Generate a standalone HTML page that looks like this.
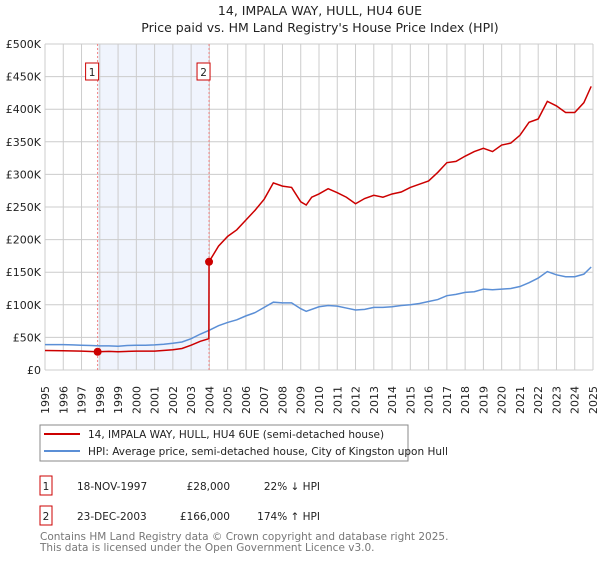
<!DOCTYPE html>
<html><head><meta charset="utf-8"><style>
body{margin:0;background:#fff;font-family:"DejaVu Sans","Liberation Sans",sans-serif;}
svg text{font-family:"DejaVu Sans","Liberation Sans",sans-serif;}
</style></head><body>
<svg id="c" width="600" height="560" xmlns="http://www.w3.org/2000/svg">
<text x="320" y="15" text-anchor="middle" font-size="12.5" fill="#222">14, IMPALA WAY, HULL, HU4 6UE</text>
<text x="320" y="32" text-anchor="middle" font-size="12.5" fill="#222">Price paid vs. HM Land Registry's House Price Index (HPI)</text>
<g id="plot"></g>
<g>
<rect x="40" y="425" width="368" height="36" fill="#fff" stroke="#888"/>
<line x1="44" y1="434" x2="80" y2="434" stroke="#cc0000" stroke-width="2"/>
<text x="88" y="438" font-size="10.5" fill="#222">14, IMPALA WAY, HULL, HU4 6UE (semi-detached house)</text>
<line x1="44" y1="451" x2="80" y2="451" stroke="#5b8fd6" stroke-width="2"/>
<text x="88" y="455" font-size="10.5" fill="#222">HPI: Average price, semi-detached house, City of Kingston upon Hull</text>
</g>
<g font-size="10.5" fill="#222">
<rect x="40" y="476" width="12" height="19" fill="#fff" stroke="#cc0000"/><text x="46" y="490" text-anchor="middle">1</text>
<text x="77" y="490">18-NOV-1997</text><text x="230" y="490" text-anchor="end">£28,000</text><text x="320" y="490" text-anchor="end">22% ↓ HPI</text>
<rect x="40" y="506" width="12" height="19" fill="#fff" stroke="#cc0000"/><text x="46" y="520" text-anchor="middle">2</text>
<text x="77" y="520">23-DEC-2003</text><text x="230" y="520" text-anchor="end">£166,000</text><text x="320" y="520" text-anchor="end">174% ↑ HPI</text>
</g>
<text x="40" y="540" font-size="10.5" fill="#777">Contains HM Land Registry data © Crown copyright and database right 2025.</text>
<text x="40" y="551" font-size="10.5" fill="#777">This data is licensed under the Open Government Licence v3.0.</text>
</svg>
<script>
const yTicks=[0,50,100,150,200,250,300,350,400,450,500];
const yTickLabels=["£0","£50K","£100K","£150K","£200K","£250K","£300K","£350K","£400K","£450K","£500K"];
const years=[1995,1996,1997,1998,1999,2000,2001,2002,2003,2004,2005,2006,2007,2008,2009,2010,2011,2012,2013,2014,2015,2016,2017,2018,2019,2020,2021,2022,2023,2024,2025];
const hpiDates=[1995,1995.5,1996,1996.5,1997,1997.5,1998,1998.5,1999,1999.5,2000,2000.5,2001,2001.5,2002,2002.5,2003,2003.5,2004,2004.5,2005,2005.5,2006,2006.5,2007,2007.5,2008,2008.5,2009,2009.3,2010,2010.5,2011,2011.5,2012,2012.5,2013,2013.5,2014,2014.5,2015,2015.5,2016,2016.5,2017,2017.5,2018,2018.5,2019,2019.5,2020,2020.5,2021,2021.5,2022,2022.5,2023,2023.5,2024,2024.5,2024.9];
const hpiValues=[39,39,39,38.5,38,37.5,37,37,36.5,37.5,38,38,38.5,39.5,41,43,48,55,61,68,73,77,83,88,96,104,103,103,94,90,97,99,98,95,92,93,96,96,97,99,100,102,105,108,114,116,119,120,124,123,124,125,128,134,141,151,146,143,143,147,158];
const priceDates=[1995,1996,1997,1997.88,1998.5,1999,2000,2001,2002,2002.5,2003,2003.5,2003.97,2003.98,2004.5,2005,2005.5,2006,2006.5,2007,2007.5,2008,2008.5,2009,2009.3,2009.6,2010,2010.5,2011,2011.5,2012,2012.5,2013,2013.5,2014,2014.5,2015,2015.5,2016,2016.5,2017,2017.5,2018,2018.5,2019,2019.5,2020,2020.5,2021,2021.5,2022,2022.5,2023,2023.5,2024,2024.5,2024.9];
const priceValues=[30,29.5,29,28,28.5,28,29,29,31,33,38,44,48,166,190,205,215,230,245,262,287,282,280,258,253,265,270,278,272,265,255,263,268,265,270,273,280,285,290,303,318,320,328,335,340,335,345,348,360,380,385,412,405,395,395,410,435];
const saleDates=[1997.88,2003.98];
const saleValues=[28,166];
const saleLabels=["1","2"];

const NS="http://www.w3.org/2000/svg";
const L=45,R=593,T=44,B=370;
const x=v=>L+(v-1995)/(2025-1995)*(R-L);
const y=v=>B-v/500*(B-T);
const g=document.getElementById('plot');
function mk(t,a){const e=document.createElementNS(NS,t);for(const k in a)e.setAttribute(k,a[k]);g.appendChild(e);return e;}
let sh=mk('rect',{x:x(saleDates[0]),y:T,width:x(saleDates[1])-x(saleDates[0]),height:B-T,fill:'#f0f4fd'});


years.forEach(yr=>{const l=mk('line',{x1:x(yr),x2:x(yr),y1:T,y2:B,stroke:'#ccc','stroke-width':1});


const t=mk('text',{transform:`translate(${x(yr)+4},${B+44}) rotate(-90)`,'font-size':11,fill:'#222'});t.textContent=yr;

});
yTicks.forEach((v,i)=>{const l=mk('line',{x1:L,x2:R,y1:y(v),y2:y(v),stroke:'#ccc','stroke-width':1});


const t=mk('text',{x:L-4,y:y(v)+4,'text-anchor':'end','font-size':11,fill:'#222'});t.textContent=yTickLabels[i];

});
saleDates.forEach((d,i)=>{const l=mk('line',{x1:x(d),x2:x(d),y1:T,y2:B,stroke:'#f08080','stroke-dasharray':'2,2'});


const r=mk('rect',{x:x(d)-12,y:63,width:13,height:17,fill:'#fff',stroke:'#cc0000'});


const t=mk('text',{x:x(d)-5.5,y:76,'text-anchor':'middle','font-size':10.5,fill:'#222'});t.textContent=saleLabels[i];

});
const hp=mk('polyline',{points:hpiDates.map((d,i)=>x(d)+','+y(hpiValues[i])).join(' '),fill:'none',stroke:'#5b8fd6','stroke-width':1.5});


const pp=mk('polyline',{points:priceDates.map((d,i)=>x(d)+','+y(priceValues[i])).join(' '),fill:'none',stroke:'#cc0000','stroke-width':1.5});


saleDates.forEach((d,i)=>{const c=mk('circle',{cx:x(d),cy:y(saleValues[i]),r:4,fill:'#cc0000'});

});
</script>
</body></html>
